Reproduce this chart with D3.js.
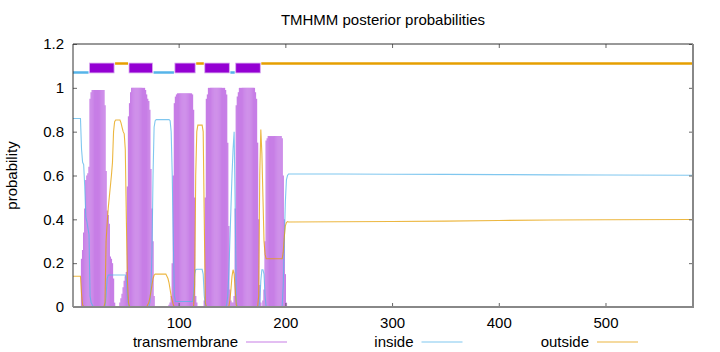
<!DOCTYPE html>
<html><head><meta charset="utf-8">
<script src="https://cdn.jsdelivr.net/npm/d3@7"></script>
<style>
body{margin:0;background:#fff;}
svg{display:block;}
text{font-family:"Liberation Sans",Arial,sans-serif;fill:#000;}
</style>
</head><body>
<svg id="c" width="720" height="352"></svg>
<script>
const chartTitle = "TMHMM posterior probabilities";
const yAxisLabel = "probability";
const seriesNames = ["transmembrane", "inside", "outside"];
const xTickValues = [100, 200, 300, 400, 500];
const yTickValues = [0, 0.2, 0.4, 0.6, 0.8, 1, 1.2];
const yTickLabels = ["0", "0.2", "0.4", "0.6", "0.8", "1", "1.2"];
const seqLength = 582;

// per-residue posterior probabilities, residues 1..203
const tmProb = [
0,0,0,0,0,0,0,0,0.22,0.26,
0.34,0.45,0.58,0.60,0.61,0.64,0.95,0.98,0.99,0.99,
0.99,0.99,0.99,0.99,0.99,0.99,0.99,0.99,0.99,0.99,
0.92,0.62,0.44,0.42,0.38,0.23,0.22,0.20,0.13,0.02,
0,0,0,0,0.02,0.04,0.06,0.09,0.12,0.14,
0.16,0.55,0.87,0.93,0.98,1,1,1,1,1,
1,1,1,1,1,1,1,1,0.99,0.97,
0.95,0.94,0.90,0.63,0.45,0.30,0.05,0,0,0,
0,0,0,0,0,0,0,0,0,0,
0.01,0.02,0.05,0.20,0.60,0.93,0.96,0.97,0.975,0.975,
0.975,0.975,0.975,0.975,0.975,0.975,0.975,0.975,0.975,0.975,
0.975,0.975,0.97,0.90,0.50,0.05,0.02,0,0,0,
0,0,0,0.03,0.50,0.95,0.97,1,1,1,
1,1,1,1,1,1,1,1,1,1,
1,1,1,0.99,0.97,0.75,0.37,0.08,0.03,0.02,
0.02,0.05,0.45,0.92,0.96,0.98,1,1,1,1,
1,1,1,1,1,1,1,1,1,1,
1,0.98,0.95,0.75,0.40,0.10,0.02,0,0.03,0.08,
0.30,0.76,0.77,0.78,0.78,0.78,0.78,0.78,0.78,0.78,
0.78,0.78,0.78,0.78,0.78,0.78,0.77,0.60,0.40,0.15,
0.02,0,0
];
const insideProb = [
0.86,0.86,0.86,0.86,0.86,0.86,0.86,0.86,0.72,0.66,
0.65,0.55,0.41,0.39,0.36,0.33,0.05,0.02,0.01,0,
0,0,0,0,0,0,0,0,0,0,
0,0.05,0.13,0.146,0.146,0.146,0.146,0.146,0.146,0.146,
0.146,0.146,0.146,0.146,0.146,0.146,0.146,0.146,0.146,0.146,
0.13,0.05,0.01,0,0,0,0,0,0,0,
0,0,0,0,0,0,0,0,0,0,
0,0,0.02,0.08,0.25,0.60,0.82,0.85,0.855,0.855,
0.855,0.855,0.855,0.855,0.855,0.855,0.855,0.855,0.855,0.855,
0.855,0.85,0.80,0.60,0.30,0.05,0.025,0.025,0.025,0.025,
0.025,0.025,0.025,0.025,0.025,0.025,0.025,0.025,0.025,0.025,
0.025,0.025,0.025,0.06,0.15,0.17,0.172,0.172,0.172,0.172,
0.172,0.172,0.15,0.05,0.01,0,0,0,0,0,
0,0,0,0,0,0,0,0,0,0,
0,0,0,0,0.01,0.05,0.15,0.30,0.45,0.60,
0.72,0.80,0.45,0.03,0,0,0,0,0,0,
0,0,0,0,0,0,0,0,0,0,
0,0,0,0,0,0.02,0.12,0.17,0.17,0.15,
0.05,0,0,0,0,0,0,0,0,0,
0,0,0,0,0,0,0,0.10,0.30,0.48,
0.58,0.60,0.607
];
const outsideProb = [
0.14,0.14,0.14,0.14,0.14,0.14,0.14,0.14,0.06,0.01,
0,0,0,0,0,0,0,0,0,0,
0,0,0,0,0,0,0,0,0,0,
0.02,0.30,0.38,0.45,0.50,0.55,0.60,0.66,0.80,0.845,
0.853,0.853,0.853,0.853,0.853,0.84,0.82,0.80,0.79,0.72,
0.40,0.12,0.02,0,0,0,0,0,0,0,
0,0,0,0,0,0,0,0,0,0,
0.01,0.02,0.04,0.07,0.10,0.13,0.145,0.15,0.15,0.15,
0.15,0.15,0.15,0.15,0.15,0.15,0.15,0.15,0.14,0.13,
0.11,0.08,0.05,0.03,0.01,0,0,0,0,0,
0,0,0,0,0,0,0,0,0,0,
0,0,0,0,0.10,0.60,0.80,0.83,0.83,0.83,
0.83,0.83,0.80,0.40,0.02,0,0,0,0,0,
0,0,0,0,0,0,0,0,0,0,
0,0,0,0,0,0,0,0.03,0.08,0.14,
0.17,0.15,0.08,0.01,0,0,0,0,0,0,
0,0,0,0,0,0,0,0,0,0,
0,0,0,0,0.05,0.60,0.81,0.70,0.50,0.30,
0.24,0.22,0.22,0.22,0.22,0.22,0.22,0.22,0.22,0.22,
0.22,0.22,0.22,0.22,0.22,0.22,0.22,0.25,0.32,0.37,
0.385,0.39,0.388
];
// flat tail of the inside / outside curves (read at these residues)
const tailPos = [203, 250, 300, 350, 400, 450, 500, 582];
const tailInside = [0.607, 0.607, 0.606, 0.605, 0.604, 0.603, 0.602, 0.601];
const tailOutside = [0.388, 0.389, 0.390, 0.392, 0.395, 0.397, 0.398, 0.399];

// predicted topology
const helixStart = [17, 54, 97, 125, 154];
const helixEnd = [39, 75, 115, 147, 176];
const loopSide = ["inside", "outside", "inside", "outside", "inside", "outside"];

const colTM = "#c77ee6", colTMbox = "#9400d3", colIn = "#56b4e9", colOut = "#e69f00";
const FONT = 15;

const m = {left: 73, right: 693, top: 44, bottom: 307};
const x = d3.scaleLinear().domain([1, seqLength]).range([m.left, m.right]);
const y = d3.scaleLinear().domain([0, 1.2]).range([m.bottom, m.top]);
const svg = d3.select("#c");

// transmembrane impulses
const tmData = tmProb.map((p, i) => ({pos: i + 1, p})).filter(d => d.p > 0);
svg.append("g").selectAll("line").data(tmData).join("line")
  .attr("x1", d => x(d.pos)).attr("x2", d => x(d.pos))
  .attr("y1", y(0)).attr("y2", d => y(d.p))
  .attr("stroke", colTM).attr("stroke-width", 1.3);

// inside / outside curves
const inPts = insideProb.map((p, i) => [i + 1, p]).concat(tailPos.map((t, i) => [t, tailInside[i]]));
const outPts = outsideProb.map((p, i) => [i + 1, p]).concat(tailPos.map((t, i) => [t, tailOutside[i]]));
const line = d3.line().x(d => x(d[0])).y(d => y(d[1]));
svg.append("path").datum(inPts).attr("d", line).attr("fill", "none")
  .attr("stroke", colIn).attr("stroke-opacity", 0.75).attr("stroke-width", 1.1);
svg.append("path").datum(outPts).attr("d", line).attr("fill", "none")
  .attr("stroke", colOut).attr("stroke-opacity", 0.75).attr("stroke-width", 1.1);

// topology bar
const bounds = [1].concat(helixStart.map(s => s - 0.5));
const loops = loopSide.map((side, i) => {
  const a = i === 0 ? 1 : helixEnd[i - 1] + 0.5;
  const b = i === helixStart.length ? seqLength : helixStart[i] - 0.5;
  return {side, a, b};
});
svg.append("g").selectAll("line").data(loops).join("line")
  .attr("x1", d => x(d.a) + (d.a > 1 ? 1 : 0)).attr("x2", d => x(d.b) - (d.b < seqLength ? 1 : 0))
  .attr("y1", d => y(d.side === "inside" ? 1.07 : 1.111))
  .attr("y2", d => y(d.side === "inside" ? 1.07 : 1.111))
  .attr("stroke", d => d.side === "inside" ? colIn : colOut).attr("stroke-width", 2.5);
svg.append("g").selectAll("rect").data(helixStart.map((s, i) => ({s, e: helixEnd[i]}))).join("rect")
  .attr("x", d => x(d.s - 0.5)).attr("width", d => x(d.e + 0.5) - x(d.s - 0.5))
  .attr("y", y(1.113)).attr("height", y(1.068) - y(1.113))
  .attr("fill", colTMbox).attr("stroke", "#d7a8ef").attr("stroke-width", 0.8);

// axes
const styleAxis = g => {
  g.select(".domain").remove();
  g.selectAll(".tick line").attr("stroke", "#666");
  g.selectAll("text").attr("font-size", FONT).attr("font-family", "Liberation Sans, Arial, sans-serif").attr("fill", "#000");
};
svg.append("g").attr("transform", `translate(0,${m.bottom})`)
  .call(d3.axisBottom(x).tickValues(xTickValues).tickSize(-4).tickPadding(10).tickFormat(d3.format("d")))
  .call(styleAxis);
svg.append("g").attr("transform", `translate(0,${m.top})`)
  .call(d3.axisTop(x).tickValues(xTickValues).tickSize(-4).tickFormat(""))
  .call(styleAxis);
svg.append("g").attr("transform", `translate(${m.left},0)`)
  .call(d3.axisLeft(y).tickValues(yTickValues).tickSize(-4).tickPadding(9).tickFormat((d, i) => yTickLabels[i]))
  .call(styleAxis);
svg.append("g").attr("transform", `translate(${m.right},0)`)
  .call(d3.axisRight(y).tickValues(yTickValues).tickSize(-4).tickFormat(""))
  .call(styleAxis);

// frame
svg.append("line").attr("x1", m.left).attr("x2", m.right).attr("y1", m.top).attr("y2", m.top).attr("stroke", "#333").attr("stroke-width", 1);
svg.append("line").attr("x1", m.left).attr("x2", m.left).attr("y1", m.top).attr("y2", m.bottom).attr("stroke", "#333").attr("stroke-width", 1);
svg.append("line").attr("x1", m.left).attr("x2", m.right + 1).attr("y1", m.bottom).attr("y2", m.bottom).attr("stroke", "#888").attr("stroke-width", 2);
svg.append("line").attr("x1", m.right).attr("x2", m.right).attr("y1", m.top).attr("y2", m.bottom).attr("stroke", "#888").attr("stroke-width", 2);

// title and y label
svg.append("text").attr("x", (m.left + m.right) / 2).attr("y", 25).attr("text-anchor", "middle")
  .attr("font-size", FONT).text(chartTitle);
svg.append("text").attr("transform", `translate(17,${(m.top + m.bottom) / 2}) rotate(-90)`)
  .attr("text-anchor", "middle").attr("font-size", FONT).text(yAxisLabel);

// legend
const legendCols = [colTM, colIn, colOut];
const legendRight = [238, 413.5, 589];
const lg = svg.append("g").selectAll("g").data(seriesNames).join("g");
lg.append("text").attr("x", (d, i) => legendRight[i]).attr("y", 347).attr("text-anchor", "end")
  .attr("font-size", FONT).text(d => d);
lg.append("line").attr("x1", (d, i) => legendRight[i] + 8).attr("x2", (d, i) => legendRight[i] + 49)
  .attr("y1", 342).attr("y2", 342).attr("stroke", (d, i) => legendCols[i]).attr("stroke-width", 1.1)
  .attr("stroke-opacity", (d, i) => i === 0 ? 1 : 0.75);
</script>
</body></html>
